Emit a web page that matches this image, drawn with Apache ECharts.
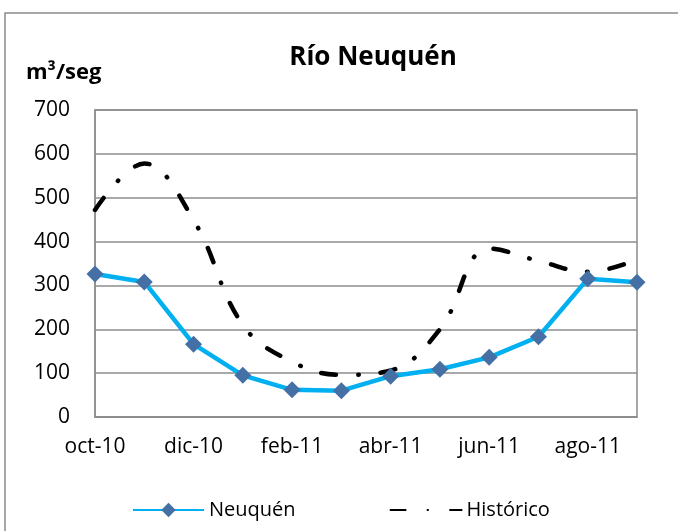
<!DOCTYPE html>
<html>
<head>
	<meta charset="utf-8" />
	<title>Río Neuquén</title>
	<script src="https://cdn.jsdelivr.net/npm/echarts@6/dist/echarts.min.js"></script>
	<style>
		* { margin: 0; padding: 0; }
		html, body { width: 100%; height: 100%; background: #fff; }
		#main { width: 678px; height: 531px; }
	</style>
</head>
<body>
	<div id="main"></div>
	<script>
		// datos (m3/seg)
		var meses = ['oct-10', 'nov-10', 'dic-10', 'ene-11', 'feb-11', 'mar-11', 'abr-11', 'may-11', 'jun-11', 'jul-11', 'ago-11', 'sep-11'];
		var neuquen = [326, 308, 166, 95, 62, 60, 93, 109, 136, 183, 315, 307];
		var historico = [472, 578, 449, 210, 126, 96, 106, 200, 384, 356, 331, 359];
		var yTicks = [0, 100, 200, 300, 400, 500, 600, 700];

		var fuente = 'Open Sans';
		var gris = '#8c8c8c';

		var myChart = echarts.init(document.getElementById('main'));
		var option = {
			backgroundColor: '#fff',
			textStyle: { fontFamily: fuente },
			graphic: [{
				type: 'rect',
				shape: { x: 5, y: 13, width: 690, height: 540 },
				style: { fill: 'none', stroke: gris, lineWidth: 1.5 }
			}],
			title: [{
				text: 'Río Neuquén',
				left: 368,
				top: 40,
				textAlign: 'center',
				textStyle: { fontFamily: fuente, fontSize: 26, fontWeight: 'bold', color: '#000' }
			}, {
				text: 'm³/seg',
				left: 21,
				top: 57,
				textStyle: { fontFamily: fuente, fontSize: 22, fontWeight: 'bold', color: '#000' }
			}],
			legend: {
				bottom: 6,
				left: 127,
				itemWidth: 71,
				itemHeight: 18,
				itemGap: 94,
				textStyle: { fontFamily: fuente, fontSize: 20, color: '#000' },
				data: ['Neuquén', { name: 'Histórico', itemStyle: { opacity: 0 } }]
			},
			grid: {
				left: 95,
				right: 41,
				top: 110,
				bottom: 114,
				show: true,
				borderColor: gris,
				borderWidth: 1.5
			},
			xAxis: {
				type: 'category',
				boundaryGap: false,
				data: meses,
				axisLine: { lineStyle: { color: gris, width: 1.5 } },
				axisTick: { show: false },
				axisLabel: { interval: 1, color: '#000', fontSize: 21, margin: 20, fontFamily: fuente }
			},
			yAxis: {
				type: 'value',
				min: yTicks[0],
				max: yTicks[yTicks.length - 1],
				interval: 100,
				axisLine: { show: true, lineStyle: { color: gris, width: 1.5 } },
				axisTick: { show: false },
				axisLabel: { color: '#000', fontSize: 21, margin: 25, fontFamily: fuente },
				splitLine: { lineStyle: { color: gris, width: 1.5 } }
			},
			series: [{
				name: 'Histórico',
				type: 'line',
				smooth: 0.4,
				symbol: 'none',
				data: historico,
				itemStyle: { color: '#000' },
				lineStyle: { color: '#000', width: 4.5, type: [15, 22, 0.5, 22], cap: 'round' },
				z: 2
			}, {
				name: 'Neuquén',
				type: 'line',
				symbol: 'diamond',
				symbolSize: 17,
				data: neuquen,
				itemStyle: { color: '#4470a5' },
				lineStyle: { color: '#00b0f0', width: 4.5 },
				z: 3
			}]
		};
		myChart.setOption(option);
	</script>
</body>
</html>
